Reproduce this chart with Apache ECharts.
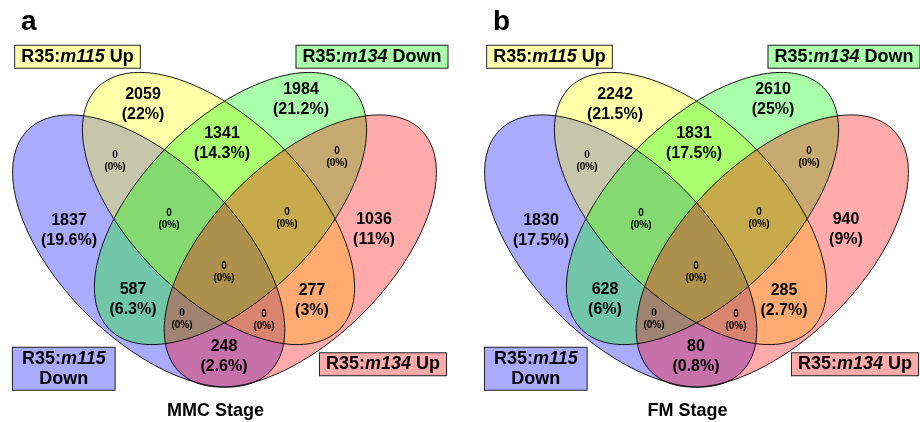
<!DOCTYPE html>
<html><head><meta charset="utf-8">
<script src="https://cdn.jsdelivr.net/npm/echarts@6/dist/echarts.min.js"></script>
<style>html,body{margin:0;padding:0;background:#fff}#c{width:920px;height:422px}</style>
</head><body><div id="c"></div>
<script>
// ---------------- DATA ----------------
// Sets: A = R35:m115 Down, B = R35:m115 Up, C = R35:m134 Down, D = R35:m134 Up
const setPrefix = ['R35:', 'R35:', 'R35:', 'R35:'];
const setGene = ['m115', 'm115', 'm134', 'm134'];
const setDirection = ['Down', 'Up', 'Down', 'Up'];
const panelLetters = ['a', 'b'];
const panelTitles = ['MMC Stage', 'FM Stage'];
// Venn regions
const regionKeys = ['B', 'C', 'BC', 'AB', 'CD', 'A', 'ABC', 'BCD', 'D', 'ABCD', 'AC', 'BD', 'ACD', 'ABD', 'AD'];
const mmcCounts   = [2059, 1984, 1341, 0, 0, 1837, 0, 0, 1036, 0, 587, 277, 0, 0, 248];
const mmcPercents = [22, 21.2, 14.3, 0, 0, 19.6, 0, 0, 11, 0, 6.3, 3, 0, 0, 2.6];
const fmCounts    = [2242, 2610, 1831, 0, 0, 1830, 0, 0, 940, 0, 628, 285, 0, 0, 80];
const fmPercents  = [21.5, 25, 17.5, 0, 0, 17.5, 0, 0, 9, 0, 6, 2.7, 0, 0, 0.8];

// ---------------- LAYOUT (geometry & styles) ----------------
const FONT = 'Liberation Sans, Arial, sans-serif';
const LAYOUT = {
  panelLeft: [0, 472], panelWidth: 448, panelHeight: 422,
  ellipses: [
    { cx: 148.7, cy: 251,   a: 171, b: 88.3, rot: 45,  fill: 'rgba(0,0,255,0.3333)' },
    { cx: 218.5, cy: 208.5, a: 171, b: 88.3, rot: 45,  fill: 'rgba(255,255,0,0.3333)' },
    { cx: 230.5, cy: 208.5, a: 171, b: 88.3, rot: -45, fill: 'rgba(0,255,0,0.3333)' },
    { cx: 300.3, cy: 251,   a: 171, b: 88.3, rot: -45, fill: 'rgba(255,0,0,0.3333)' }
  ],
  regionPos: [[143,105],[301,100],[222,144],[115,161],[337,157],[69,231],[169,219],[287,218],
              [374,230],[224,272],[133,300],[312,301],[182,319],[264,320],[224,357]],
  regionSmall: [false,false,false,true,true,false,true,true,false,true,false,false,true,true,false],
  setBox: [
    { x: 63.8, y: 368.8, twoLine: true, bg: '#AAAAFF', pad: [1, 9] },
    { x: 77.5, y: 56.7, twoLine: false, bg: '#FFFFAA', pad: [1, 6] },
    { x: 372,  y: 56.7, twoLine: false, bg: '#AAFFAA', pad: [1, 6] },
    { x: 383,  y: 364.2, twoLine: false, bg: '#FFAAAA', pad: [1, 6] }
  ]
};

function ellipsePoints(e, api) {
  const pts = [], N = 180, r = e.rot * Math.PI / 180;
  for (let k = 0; k < N; k++) {
    const t = 2 * Math.PI * k / N;
    const x = e.cx + e.a * Math.cos(t) * Math.cos(r) - e.b * Math.sin(t) * Math.sin(r);
    const y = e.cy + e.a * Math.cos(t) * Math.sin(r) + e.b * Math.sin(t) * Math.cos(r);
    pts.push(api.coord([x, y]));
  }
  return pts;
}

const grids = [], xAxes = [], yAxes = [], series = [], graphics = [];
const panels = [[mmcCounts, mmcPercents], [fmCounts, fmPercents]];

panels.forEach(([counts, pcts], p) => {
  grids.push({ left: LAYOUT.panelLeft[p], top: 0, width: LAYOUT.panelWidth, height: LAYOUT.panelHeight });
  xAxes.push({ gridIndex: p, type: 'value', min: 0, max: LAYOUT.panelWidth, show: false });
  yAxes.push({ gridIndex: p, type: 'value', min: 0, max: LAYOUT.panelHeight, inverse: true, show: false });
  const ellData = LAYOUT.ellipses.map((e, i) => [e.cx, e.cy, i]);
  series.push({
    type: 'custom', xAxisIndex: p, yAxisIndex: p, silent: true, clip: false,
    data: ellData,
    renderItem: (params, api) => {
      const e = LAYOUT.ellipses[api.value(2)];
      return { type: 'polygon', shape: { points: ellipsePoints(e, api) }, style: { fill: e.fill, stroke: null } };
    }
  });
  series.push({
    type: 'custom', xAxisIndex: p, yAxisIndex: p, silent: true, clip: false,
    data: ellData,
    renderItem: (params, api) => {
      const e = LAYOUT.ellipses[api.value(2)];
      return { type: 'polygon', shape: { points: ellipsePoints(e, api) }, style: { fill: 'none', stroke: '#000', lineWidth: 0.9 } };
    }
  });
  series.push({
    type: 'scatter', xAxisIndex: p, yAxisIndex: p, silent: true, symbolSize: 1,
    itemStyle: { color: 'transparent' },
    data: regionKeys.map((k, i) => ({ value: LAYOUT.regionPos[i], count: counts[i], pct: pcts[i], small: LAYOUT.regionSmall[i] })),
    label: {
      show: true, position: 'inside', align: 'center', verticalAlign: 'middle', opacity: 1,
      formatter: (prm) => {
        const d = prm.data, s = d.small ? 's' : 'b';
        return '{' + s + '|' + d.count + '}\n{' + s + '|(' + d.pct + '%)}';
      },
      rich: {
        b: { fontSize: 16, fontWeight: 'bold', lineHeight: 20, color: '#000', fontFamily: FONT },
        s: { fontSize: 10, fontWeight: 'bold', lineHeight: 12, color: '#000', fontFamily: FONT }
      }
    },
    emphasis: { disabled: true }
  });
  series.push({
    type: 'scatter', xAxisIndex: p, yAxisIndex: p, silent: true, symbolSize: 1,
    itemStyle: { color: 'transparent' },
    data: setGene.map((g, i) => {
      const bx = LAYOUT.setBox[i];
      return {
        value: [bx.x, bx.y], prefix: setPrefix[i], gene: g, dir: setDirection[i], twoLine: bx.twoLine,
        label: { backgroundColor: bx.bg, padding: bx.pad }
      };
    }),
    label: {
      show: true, position: 'inside', align: 'center', verticalAlign: 'middle', opacity: 1,
      borderColor: '#222', borderWidth: 1,
      formatter: (prm) => {
        const d = prm.data;
        return '{n|' + d.prefix + '}{i|' + d.gene + '}' + (d.twoLine ? '\n{n|' : '{n| ') + d.dir + '}';
      },
      rich: {
        n: { fontSize: 18, fontWeight: 'bold', lineHeight: 20, color: '#000', fontFamily: FONT },
        i: { fontSize: 18, fontWeight: 'bold', fontStyle: 'italic', lineHeight: 20, color: '#000', fontFamily: FONT }
      }
    },
    emphasis: { disabled: true }
  });
  graphics.push({
    type: 'text', x: LAYOUT.panelLeft[p] + 21, y: 22,
    style: { text: panelLetters[p], font: 'bold 28px ' + FONT, fill: '#000', textAlign: 'left', textVerticalAlign: 'middle' }
  });
  graphics.push({
    type: 'text', x: LAYOUT.panelLeft[p] + 215.5, y: 411.5,
    style: { text: panelTitles[p], font: 'bold 18px ' + FONT, fill: '#000', textAlign: 'center', textVerticalAlign: 'middle' }
  });
});

const chart = echarts.init(document.getElementById('c'));
chart.setOption({
  animation: false,
  backgroundColor: '#fff',
  grid: grids, xAxis: xAxes, yAxis: yAxes,
  series: series,
  graphic: graphics
});
</script></body></html>
